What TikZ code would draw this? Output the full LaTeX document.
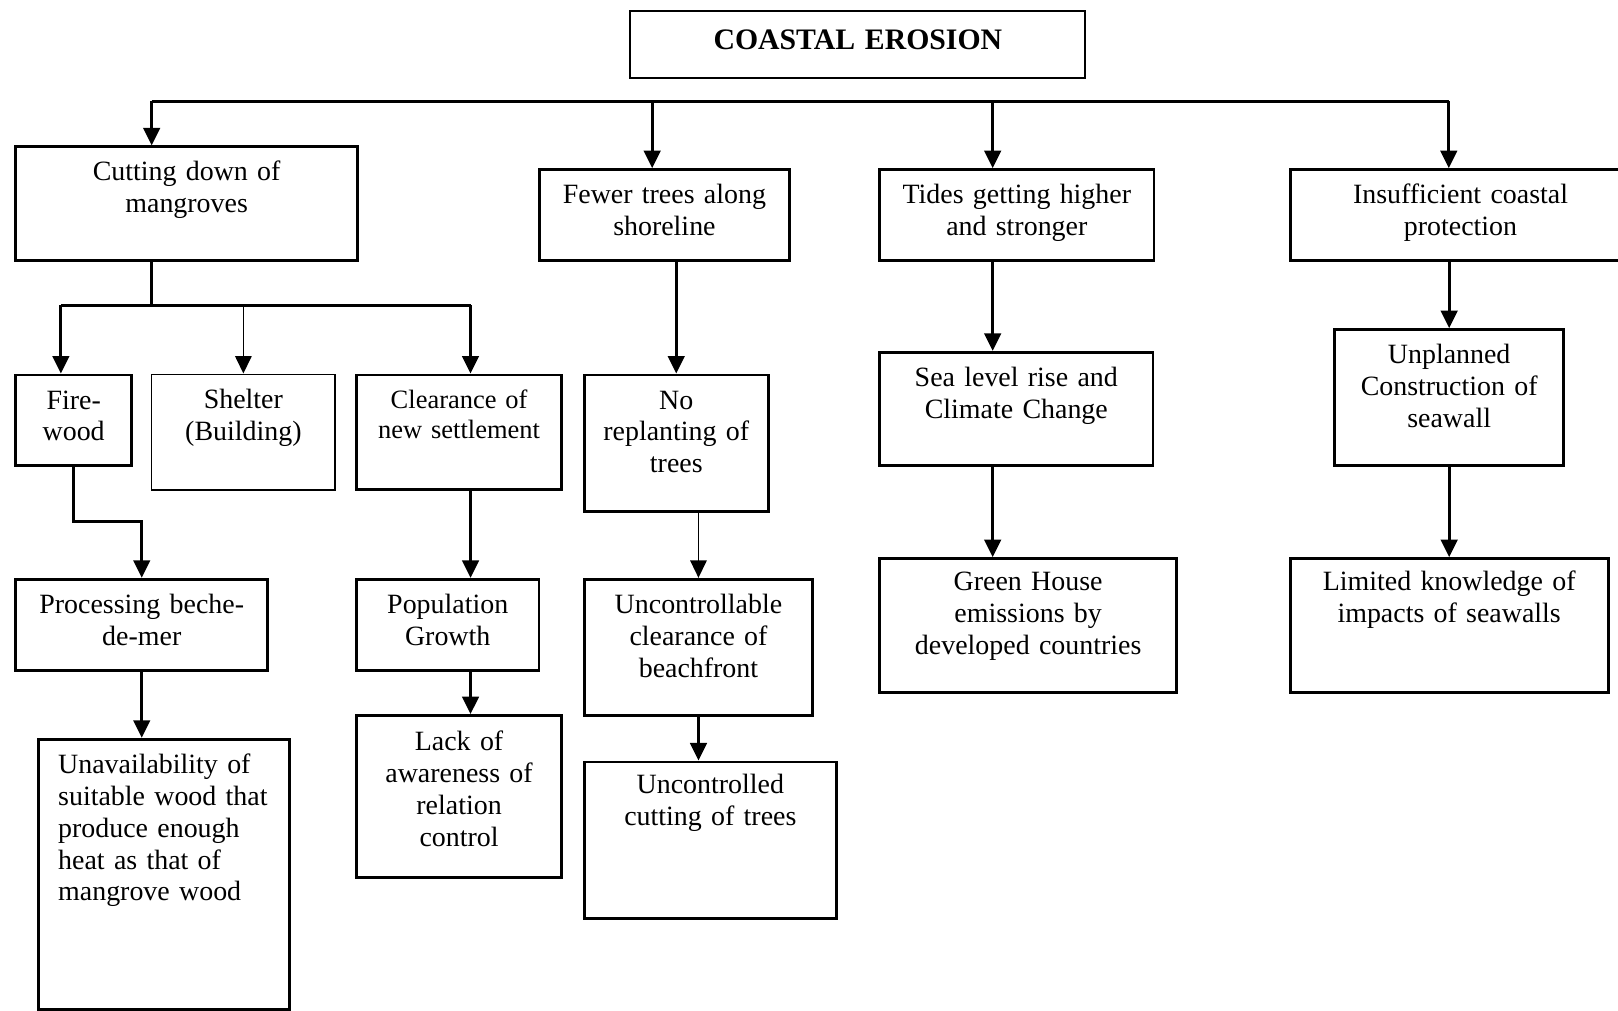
\documentclass[tikz,border=0pt]{standalone}
\usepackage{fontspec}
\setmainfont{Liberation Serif}
\usetikzlibrary{arrows.meta}
\tikzstyle{cause} = [draw=black, line width=1.6pt, inner sep=0pt, anchor=north west, align=center, text height=0.66cm, font=\fontsize{15.4}{17.6}\selectfont]
\tikzstyle{title} = [cause, line width=1pt, text height=0.74cm, font=\fontsize{16.4}{17.6}\selectfont\bfseries]
\tikzstyle{thinbox} = [line width=1pt]
\tikzstyle{line} = [line width=1.7pt]
\tikzstyle{arrow} = [line width=1.7pt, -{Triangle[length=0.34cm, width=0.32cm]}]
\tikzstyle{thinarrow} = [line width=0.9pt, -{Triangle[length=0.34cm, width=0.32cm]}]

\begin{document}
\begin{tikzpicture}[x=0.02cm, y=-0.02cm]
\useasboundingbox (0,0) rectangle (1568,979);

\node at (610,10) (top) [title, text width=8.82cm, text depth=0.56cm] {COASTAL EROSION};

% first row
\node at (14,141) (cut) [cause, text width=6.62cm, text depth=1.54cm] {Cutting down of\\mangroves};
\node at (521,163) (fewer) [cause, text width=4.86cm, text depth=1.10cm] {Fewer trees along\\shoreline};
\node at (851,163) (tides) [cause, text width=5.32cm, text depth=1.10cm] {Tides getting higher\\and stronger};
\node at (1249,163) (insuf) [cause, text width=6.60cm, text depth=1.10cm] {Insufficient coastal\\protection};

% second row
\node at (14,362) (fire) [cause, text width=2.24cm, text depth=1.10cm] {Fire-\\wood};
\node at (146,362) (shelter) [cause, thinbox, text width=3.56cm, text depth=1.58cm] {Shelter\\(Building)};
\node at (344,362) (clear) [cause, text width=3.98cm, text depth=1.58cm, text height=0.64cm, font=\fontsize{14.6}{16.8}\selectfont] {Clearance of\\new settlement};
\node at (565,362) (norepl) [cause, text width=3.56cm, text depth=1.98cm] {No\\replanting of\\trees};
\node at (851,340) (sea) [cause, text width=5.30cm, text depth=1.54cm] {Sea level rise and\\Climate Change};
\node at (1292,318) (unpl) [cause, text width=4.44cm, text depth=1.98cm] {Unplanned\\Construction of\\seawall};

% third row
\node at (14,560) (proc) [cause, text width=4.88cm, text depth=1.10cm] {Processing beche-\\de-mer};
\node at (344,560) (pop) [cause, text width=3.54cm, text depth=1.10cm] {Population\\Growth};
\node at (565,560) (uncl) [cause, text width=4.42cm, text depth=1.98cm] {Uncontrollable\\clearance of\\beachfront};
\node at (851,540) (green) [cause, text width=5.76cm, text depth=1.98cm, text height=0.62cm] {Green House\\emissions by\\developed countries};
\node at (1249,540) (limited) [cause, text width=6.16cm, text depth=1.98cm, text height=0.62cm] {Limited knowledge of\\impacts of seawalls};

% fourth row
\node at (36,715) (unav) [cause, align=left, inner xsep=0.38cm, text width=4.10cm, text depth=4.58cm] {Unavailability of\\suitable wood that\\produce enough\\heat as that of\\mangrove wood};
\node at (344,692) (lack) [cause, text width=3.98cm, text depth=2.46cm, text height=0.68cm] {Lack of\\awareness of\\relation\\control};
\node at (565,737) (uncd) [cause, text width=4.88cm, text depth=2.42cm, text height=0.62cm] {Uncontrolled\\cutting of trees};

% junctions
\coordinate (busL) at (147,98);
\coordinate (busR) at (1404,98);
\coordinate (b2) at (632,98);
\coordinate (b3) at (962,98);
\coordinate (j1) at (147,296);
\coordinate (j1a) at (59,296);
\coordinate (j1c) at (456,296);
\coordinate (k1) at (136,505);

\draw [line] (busL) -- (busR);
\draw [arrow] (busL) -- (busL |- cut.north);
\draw [arrow] (b2) -- (b2 |- fewer.north);
\draw [arrow] (b3) -- (b3 |- tides.north);
\draw [arrow] (busR) -- (busR |- insuf.north);

\draw [line] (busL |- cut.south) -- (j1);
\draw [line] (j1a) -- (j1c);
\draw [arrow] (j1a) -- (j1a |- fire.north);
\draw [thinarrow] (shelter.north |- j1) -- (shelter.north);
\draw [arrow] (j1c) -- (j1c |- clear.north);

\draw [arrow] (fire.south) -- (fire.south |- k1) -| (proc.north);
\draw [arrow] (proc.south) -- (proc.south |- unav.north);
\draw [arrow] (j1c |- clear.south) -- (j1c |- pop.north);
\draw [arrow] (j1c |- pop.south) -- (j1c |- lack.north);

\draw [arrow] (norepl.north |- fewer.south) -- (norepl.north);
\draw [thinarrow] (uncl.north |- norepl.south) -- (uncl.north);
\draw [arrow] (uncl.south) -- (uncl.south |- uncd.north);

\draw [arrow] (b3 |- tides.south) -- (b3 |- sea.north);
\draw [arrow] (b3 |- sea.south) -- (b3 |- green.north);

\draw [arrow] (unpl.north |- insuf.south) -- (unpl.north);
\draw [arrow] (unpl.south) -- (unpl.south |- limited.north);

\end{tikzpicture}
\end{document}
